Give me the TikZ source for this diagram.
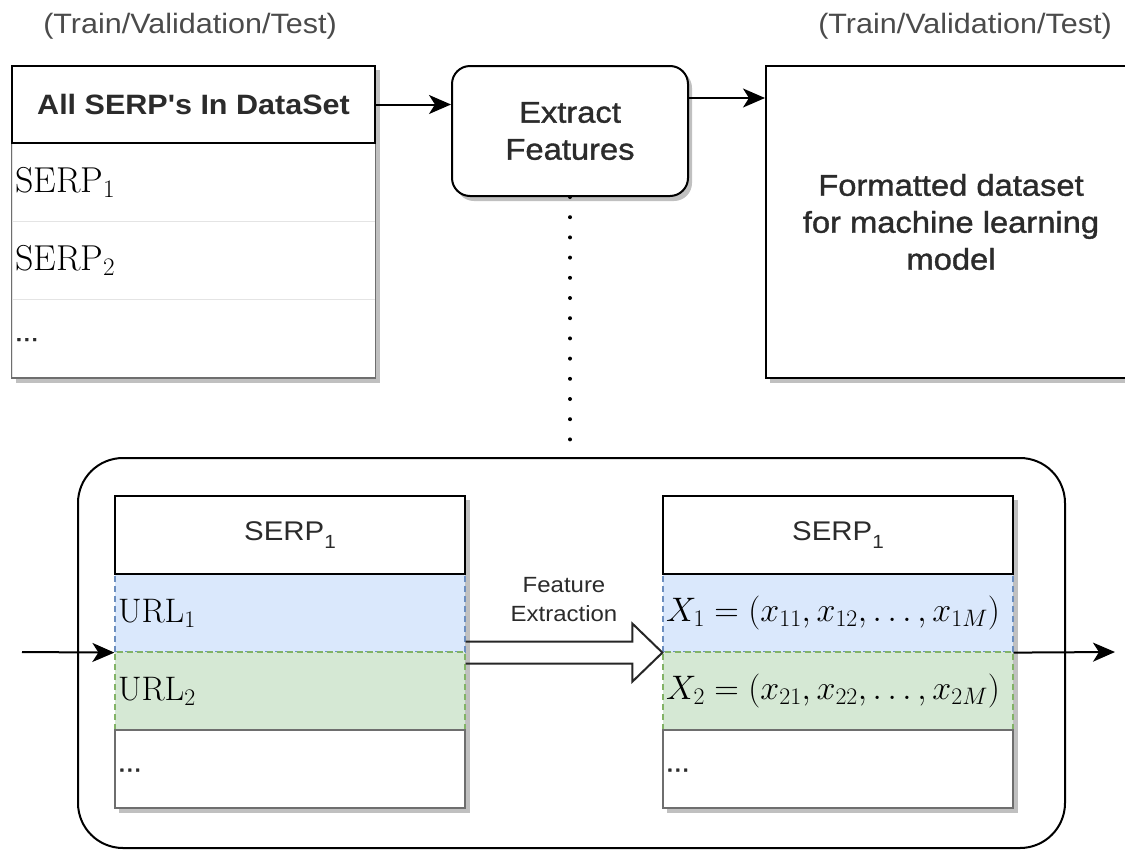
\RequirePackage{fix-cm}
\documentclass[tikz,border=0pt]{standalone}
\usepackage{fontspec}
\newfontfamily\labfont[FakeStretch=1.09]{Liberation Sans}
\newfontfamily\heavyfont[FakeStretch=1.09,FakeBold=1.2]{Liberation Sans}
\usetikzlibrary{arrows.meta}

\definecolor{bluefill}{HTML}{DAE8FC}
\definecolor{blueline}{HTML}{6C8EBF}
\definecolor{greenfill}{HTML}{D5E8D4}
\definecolor{greenline}{HTML}{82B366}
\definecolor{shadowgray}{HTML}{C0C0C0}
\definecolor{rowline}{HTML}{E4E4E4}
\definecolor{bodyline}{HTML}{6E6E6E}
\definecolor{textcol}{HTML}{2B2B2B}

\tikzset{
  lab/.style={font=\labfont, text=textcol},
  caption/.style={font=\labfont\fontsize{28}{34}\selectfont, text=textcol!85},
  bigtext/.style={font=\heavyfont\fontsize{30}{37}\selectfont, text=textcol, align=center},
  mathtext/.style={font=\fontsize{34}{40}\selectfont},
  dotstext/.style={font=\heavyfont\fontsize{26}{30}\selectfont, text=textcol},
  hdrcell/.style={draw=black, line width=2pt, fill=white, inner sep=0pt},
  listrow/.style={draw=rowline, line width=1pt, fill=white, minimum height=78pt,
                  inner xsep=3pt, inner ysep=0pt, align=left},
  bluerow/.style={draw=blueline, fill=bluefill, line width=1.2pt, dash pattern=on 6pt off 4pt,
                  minimum height=78pt, inner xsep=3pt, inner ysep=0pt, align=left},
  greenrow/.style={draw=greenline, fill=greenfill, line width=1.2pt, dash pattern=on 6pt off 4pt,
                  minimum height=78pt, inner xsep=3pt, inner ysep=0pt, align=left},
  plainrow/.style={draw=bodyline, fill=white, line width=1.2pt,
                  minimum height=78pt, inner xsep=3pt, inner ysep=0pt, align=left},
  conn/.style={line width=2pt, -{Stealth[length=22pt,width=19pt,inset=6pt]}},
  dotline/.style={line width=4pt, line cap=round, dash pattern=on 0pt off 20.2pt},
  hollow/.style={line width=2pt, draw=black!85, line join=miter},
}

\begin{document}
\begin{tikzpicture}[x=1pt,y=-1pt]
\useasboundingbox (0,0) rectangle (1125,852);
\fill[white] (0,0) rectangle (1125,852);

% captions above the two datasets
\node[caption] (capl) at (190,26) {(Train/Validation/Test)};
\node[caption] (capr) at (965,26) {(Train/Validation/Test)};

% list of all SERPs
\fill[shadowgray] (16,70) rectangle (380,383);
\node[listrow, text width=357pt, font=\fontsize{36}{42}\selectfont] (serpa) at (193.5,182.5) {$\mathrm{SERP}_1$};
\node[listrow, text width=357pt, font=\fontsize{36}{42}\selectfont] (serpb) at (193.5,260.5) {$\mathrm{SERP}_2$};
\node[listrow, text width=357pt, dotstext] (serpc) at (193.5,338.5) {\raisebox{-5pt}{...}};
\draw[bodyline, line width=1.5pt] (serpa.north west) rectangle (serpc.south east);
\node[hdrcell, minimum width=363pt, minimum height=77pt, lab,
      font=\labfont\bfseries\fontsize{28}{34}\selectfont] (all) at (193.5,104.5) {All SERP's In DataSet};

% feature extraction step
\fill[shadowgray, rounded corners=18pt] (456,70) rectangle (692,201);
\node[draw=black, line width=2pt, fill=white, rounded corners=18pt,
      minimum width=236pt, minimum height=130pt, bigtext] (ef) at (570,131) {Extract\\Features};

% formatted dataset
\fill[shadowgray] (770,70) rectangle (1140,383);
\node[draw=black, line width=2pt, fill=white, minimum width=370pt, minimum height=312pt,
      bigtext] (fmt) at (951,222) {Formatted dataset\\for machine learning\\model};

% top-level flow
\draw[conn] (all.east) -- (all.east -| ef.west);
\draw[conn] ([yshift=33pt]ef.east) coordinate (efout) -- (efout -| fmt.west);

% detail frame
\node[draw=black, line width=2pt, rounded corners=45pt,
      minimum width=987pt, minimum height=390pt] (frame) at (571.5,653) {};
\draw[dotline] (ef.south) -- (ef.south |- frame.north);

% SERP before extraction
\fill[shadowgray] (119,500) rectangle (470,813);
\node[bluerow, text width=344pt, mathtext] (urla) at (290,613) {$\mathrm{URL}_1$};
\node[greenrow, text width=344pt, mathtext] (urlb) at (290,691) {$\mathrm{URL}_2$};
\node[plainrow, text width=344pt, dotstext] (urlc) at (290,769) {\raisebox{-5pt}{...}};
\node[hdrcell, minimum width=350pt, minimum height=78pt, lab,
      font=\labfont\fontsize{27}{32}\selectfont] (sa) at (290,535)
      {SERP\raisebox{-8pt}{\fontsize{19}{22}\selectfont 1}};

% SERP after extraction
\fill[shadowgray] (667,500) rectangle (1018,813);
\node[bluerow, text width=344pt, mathtext] (xa) at (838,613) {$X_1=(x_{11},x_{12},\ldots,x_{1M})$};
\node[greenrow, text width=344pt, mathtext] (xb) at (838,691) {$X_2=(x_{21},x_{22},\ldots,x_{2M})$};
\node[plainrow, text width=344pt, dotstext] (xc) at (838,769) {\raisebox{-5pt}{...}};
\node[hdrcell, minimum width=350pt, minimum height=78pt, lab,
      font=\labfont\fontsize{27}{32}\selectfont] (sb) at (838,535)
      {SERP\raisebox{-8pt}{\fontsize{19}{22}\selectfont 1}};

% hollow arrow between the two SERPs
\draw[hollow] ([yshift=11pt]urla.south east)
  -- ([xshift=-30pt,yshift=11pt]xa.south west)
  -- ([xshift=-30pt,yshift=29pt]xa.south west)
  -- (xa.south west)
  -- ([xshift=-30pt,yshift=-29pt]xa.south west)
  -- ([xshift=-30pt,yshift=-11pt]xa.south west)
  -- ([yshift=-11pt]urla.south east);
\node[lab, font=\labfont\fontsize{22}{29}\selectfont, align=center] (fx) at (564,600) {Feature\\Extraction};

% input and output of the detail view
\coordinate (inpt) at (22,652);
\coordinate (outpt) at (1115,652);
\draw[conn] (inpt) -- (urla.south west);
\draw[conn] (xa.south east) -- (outpt);
\end{tikzpicture}
\end{document}
